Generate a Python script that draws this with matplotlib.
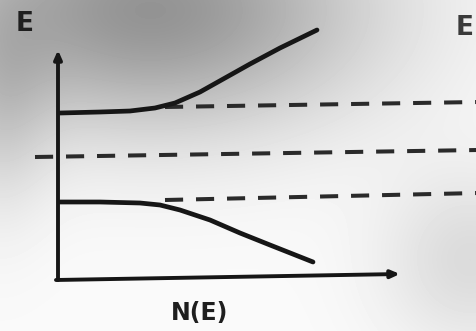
import numpy as np
import matplotlib
matplotlib.use("Agg")
import matplotlib.pyplot as plt

# Density-of-states sketch: N(E) on x, E on y (arbitrary units)
cb_N = [0.02, 0.42, 0.72, 0.97, 1.17, 1.42, 1.67, 1.92, 2.22, 2.59]
cb_E = [1.65, 1.66, 1.67, 1.70, 1.75, 1.86, 2.00, 2.14, 2.30, 2.48]
vb_N = [0.02, 0.42, 0.82, 1.02, 1.22, 1.52, 1.82, 2.12, 2.55]
vb_E = [0.76, 0.76, 0.75, 0.73, 0.68, 0.58, 0.45, 0.33, 0.16]

# dashed energy levels (start N, end N, start E, end E)
ec_level = ([1.07, 4.2], [1.71, 1.76])
ef_level = ([-0.23, 4.2], [1.21, 1.28])
ev_level = ([1.07, 4.2], [0.78, 0.85])

axis_N_max = 3.42
axis_E_max = 2.28

W, H = 477, 331
fig = plt.figure(figsize=(W / 100, H / 100), dpi=100)
ax = fig.add_axes([0, 0, 1, 1])
x0, y0 = 58, 278
xlim = (-x0 / 100, (W - x0) / 100)
ylim = (-(H - y0) / 100, y0 / 100)
ax.set_xlim(*xlim)
ax.set_ylim(*ylim)
ax.axis("off")

# scanned-paper grey background
yy, xx = np.mgrid[0:H, 0:W]
dark = (0.40 * np.exp(-(((xx - 150) / 220) ** 2 + ((yy - 10) / 120) ** 2))
        + 0.12 * np.exp(-(((xx - 470) / 90) ** 2 + ((yy - 260) / 90) ** 2))
        + 0.12 * np.exp(-(((xx - 0) / 50) ** 2 + ((yy - 110) / 110) ** 2)))
bg = np.clip(0.98 - dark, 0, 1)
ax.imshow(bg, cmap="gray", vmin=0, vmax=1, extent=[xlim[0], xlim[1], ylim[0], ylim[1]],
          aspect="auto", zorder=0, interpolation="bilinear")

col = "#161616"
# axes with arrows
ax.annotate("", xy=(0, axis_E_max), xytext=(0, -0.02),
            arrowprops=dict(arrowstyle="-|>,head_length=0.5,head_width=0.22", lw=2.8, color=col,
                            shrinkA=0, shrinkB=0), zorder=3)
ax.annotate("", xy=(axis_N_max, 0.04), xytext=(-0.02, -0.02),
            arrowprops=dict(arrowstyle="-|>,head_length=0.5,head_width=0.22", lw=2.8, color=col,
                            shrinkA=0, shrinkB=0), zorder=3)

ax.plot(cb_N, cb_E, color=col, lw=3.4, solid_capstyle="round", solid_joinstyle="round", zorder=3)
ax.plot(vb_N, vb_E, color=col, lw=3.4, solid_capstyle="round", solid_joinstyle="round", zorder=3)

for lv in (ec_level, ef_level, ev_level):
    ax.plot(lv[0], lv[1], color="#2a2a2a", lw=2.9, dashes=(4.5, 3.2), zorder=2)

ax.text(-0.33, 2.54, "E", fontsize=19, fontweight="bold", color="#1e1e1e",
        ha="center", va="center", zorder=4)
ax.text(4.07, 2.50, "E", fontsize=19, fontweight="bold", color="#3a3a3a",
        ha="center", va="center", zorder=4)
ax.text(1.42, -0.35, "N(E)", fontsize=17, fontweight="bold", color="#1e1e1e",
        ha="center", va="center", zorder=4)

fig.savefig("out.png", dpi=100)
